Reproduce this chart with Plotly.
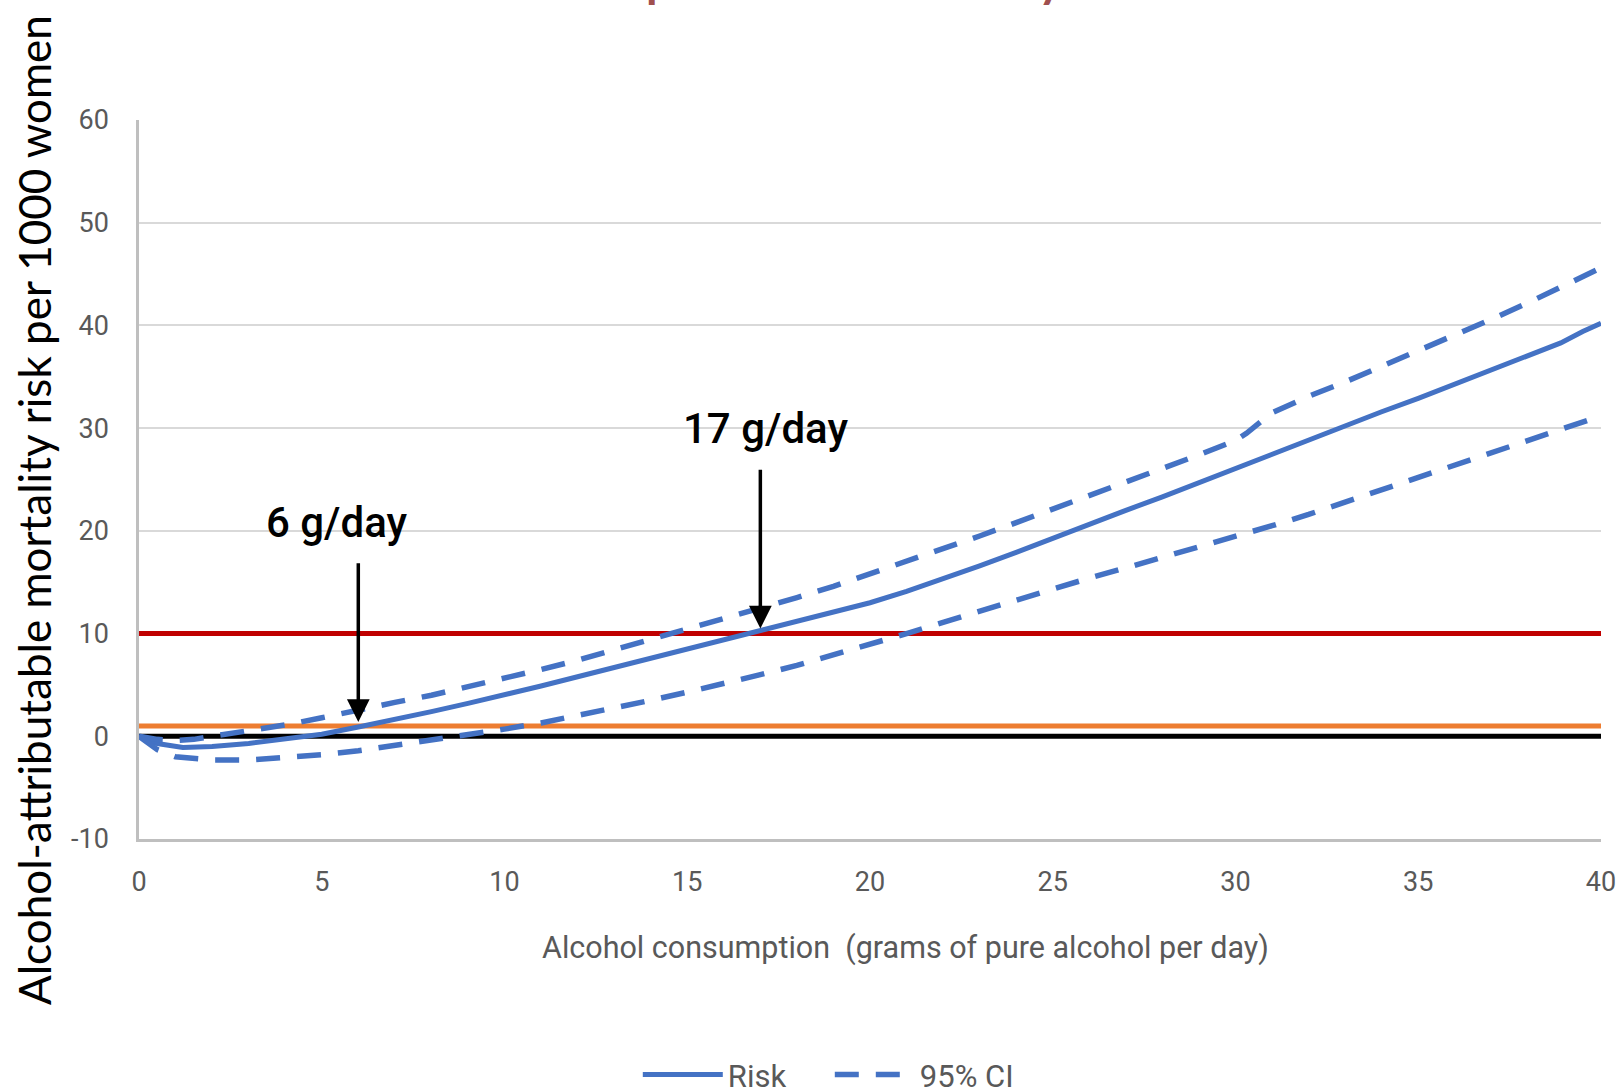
import plotly.graph_objects as go

# Daily alcohol consumption (g/day) and lifetime alcohol-attributable deaths per 1000 women
risk_x = [0, 0.5, 1.2, 2, 3, 4, 5, 6, 7, 8, 9, 10, 11, 12, 13, 14, 15, 16, 17, 18,
          19, 20, 21, 22, 23, 24, 25, 26, 27, 28, 29, 30, 31, 32, 33, 34, 35, 36,
          37, 38, 38.9, 39.5, 40]
risk_y = [0, -0.7, -1.1, -1.0, -0.7, -0.3, 0.2, 0.9, 1.6, 2.4, 3.2, 4.0, 4.9, 5.8,
          6.7, 7.6, 8.5, 9.4, 10.2, 11.1, 12.0, 13.0, 14.1, 15.3, 16.6, 17.9, 19.3,
          20.6, 22.0, 23.3, 24.7, 26.1, 27.5, 28.8, 30.2, 31.6, 32.9, 34.3, 35.6,
          37.0, 38.3, 39.4, 40.2]

upper_x = [0, 0.5, 1, 1.5, 2, 3, 4, 5, 6, 7, 8, 9, 10, 11, 12, 13, 14, 15, 16, 17,
           18, 19, 20, 21, 22, 23, 24, 25, 26, 27, 28, 29, 30, 30.3, 31, 31.5, 32,
           33, 34, 35, 36, 37, 38, 39, 40]
upper_y = [0, -0.3, -0.4, -0.3, 0.0, 0.5, 1.1, 1.8, 2.6, 3.3, 4.0, 4.8, 5.6, 6.5,
           7.4, 8.4, 9.4, 10.4, 11.4, 12.4, 13.5, 14.6, 15.8, 17.0, 18.2, 19.5, 20.8,
           22.1, 23.4, 24.7, 26.0, 27.4, 28.8, 29.5, 31.5, 32.3, 33.1, 34.5, 36.0,
           37.5, 39.1, 40.6, 42.2, 43.9, 45.6]

lower_x = [0, 0.5, 1, 1.5, 2, 3, 4, 5, 6, 7, 8, 9, 10, 11, 12, 13, 14, 15, 16, 17,
           18, 19, 20, 21, 22, 23, 24, 25, 26, 27, 28, 29, 30, 31, 32, 33, 34, 35,
           36, 37, 38, 39, 40]
lower_y = [0, -1.3, -2.0, -2.2, -2.3, -2.3, -2.1, -1.8, -1.4, -0.9, -0.4, 0.2, 0.7,
           1.3, 2.0, 2.7, 3.5, 4.3, 5.1, 6.0, 6.9, 7.9, 9.0, 10.0, 11.1, 12.2, 13.3,
           14.3, 15.4, 16.4, 17.4, 18.4, 19.4, 20.5, 21.6, 22.8, 24.1, 25.2, 26.4,
           27.6, 28.8, 30.0, 31.2]

# Reference levels: zero line, 1 in 1000 and 10 in 1000
ref_levels = [0, 1, 10]
ref_colors = ["#000000", "#ED7D31", "#C00000"]

# Intake thresholds where the risk reaches each level
threshold_x = [6, 17]
threshold_labels = ["6 g/day", "17 g/day"]
arrow_tail_y = [17.0, 26.1]
arrow_tip_y = [1.4, 10.5]
label_x = [5.42, 17.15]
label_y = [20.8, 30.0]

x_ticks = [0, 5, 10, 15, 20, 25, 30, 35, 40]
y_ticks = [-10, 0, 10, 20, 30, 40, 50, 60]
y_tick_text = ["-10", "0", "10", "20", "30", "40", "50", "60"]

BLUE = "#4472C4"
GREY_TEXT = "#595959"
TICK_FONT = "Roboto"
DASH = "24px,17px"

fig = go.Figure()

for lvl, col in zip(ref_levels, ref_colors):
    fig.add_trace(go.Scatter(
        x=[x_ticks[0], x_ticks[-1]], y=[lvl, lvl], mode="lines",
        line=dict(color=col, width=5), showlegend=False, hoverinfo="skip"))

fig.add_trace(go.Scatter(
    x=risk_x, y=risk_y, mode="lines", name="Risk",
    line=dict(color=BLUE, width=5)))
fig.add_trace(go.Scatter(
    x=upper_x, y=upper_y, mode="lines", name="95% CI",
    line=dict(color=BLUE, width=5.5, dash=DASH)))
fig.add_trace(go.Scatter(
    x=lower_x, y=lower_y, mode="lines", name="95% CI", showlegend=False,
    line=dict(color=BLUE, width=5.5, dash=DASH)))

annotations = []
for tx, lab, t0, t1, lx, ly in zip(threshold_x, threshold_labels, arrow_tail_y,
                                   arrow_tip_y, label_x, label_y):
    annotations.append(dict(
        x=tx, y=t1, ax=tx, ay=t0, xref="x", yref="y", axref="x", ayref="y",
        text="", showarrow=True, arrowhead=2, arrowsize=1.3, arrowwidth=3.5,
        arrowcolor="#000000", standoff=0))
    annotations.append(dict(
        x=lx, y=ly, xref="x", yref="y", text=lab, showarrow=False,
        font=dict(family=TICK_FONT, size=42, color="#000000", weight=500),
        xanchor="center", yanchor="middle"))

# Y-axis title
annotations.append(dict(
    x=-0.0718, y=0.4576, xref="paper", yref="paper",
    text="Alcohol-attributable mortality risk per 1000 women",
    textangle=-90, showarrow=False, xanchor="center", yanchor="middle",
    font=dict(family="Lato", size=44, color="#000000")))
# X-axis title
annotations.append(dict(
    x=0.5246, y=-0.1515, xref="paper", yref="paper",
    text="Alcohol consumption  (grams of pure alcohol per day)",
    showarrow=False, xanchor="center", yanchor="middle",
    font=dict(family=TICK_FONT, size=30.5, color=GREY_TEXT)))
# Chart title, set against the top edge of the page
annotations.append(dict(
    x=0.458, y=1.154, xref="paper", yref="paper",
    text="<b>Lifetime deaths per 1000 women by alcohol use</b>",
    showarrow=False, xanchor="center", yanchor="bottom",
    font=dict(family="Lato", size=47, color="#A0504F")))

fig.update_layout(
    width=1619, height=1092,
    margin=dict(l=139, r=18, t=120, b=253, autoexpand=False),
    paper_bgcolor="white", plot_bgcolor="white",
    showlegend=True,
    legend=dict(orientation="h", x=0.4725, y=-0.328, xanchor="center",
                yanchor="middle", font=dict(family=TICK_FONT, size=31,
                                            color=GREY_TEXT),
                itemwidth=80, entrywidth=97, tracegroupgap=0),
    annotations=annotations,
    xaxis=dict(range=[0, 40], tickvals=x_ticks, showgrid=False, zeroline=False,
               showline=True, linecolor="#BFBFBF", linewidth=2.5, automargin=False,
               ticks="", tickfont=dict(family=TICK_FONT, size=27, color=GREY_TEXT),
               ticklabelstandoff=17),
    yaxis=dict(range=[-10, 60], tickvals=y_ticks, ticktext=y_tick_text,
               showgrid=True, gridcolor="#D9D9D9", gridwidth=2, zeroline=False,
               showline=True, linecolor="#BFBFBF", linewidth=2.5, automargin=False,
               ticks="", tickfont=dict(family=TICK_FONT, size=27, color=GREY_TEXT),
               ticklabelstandoff=22),
)

fig.write_html("out.html")
